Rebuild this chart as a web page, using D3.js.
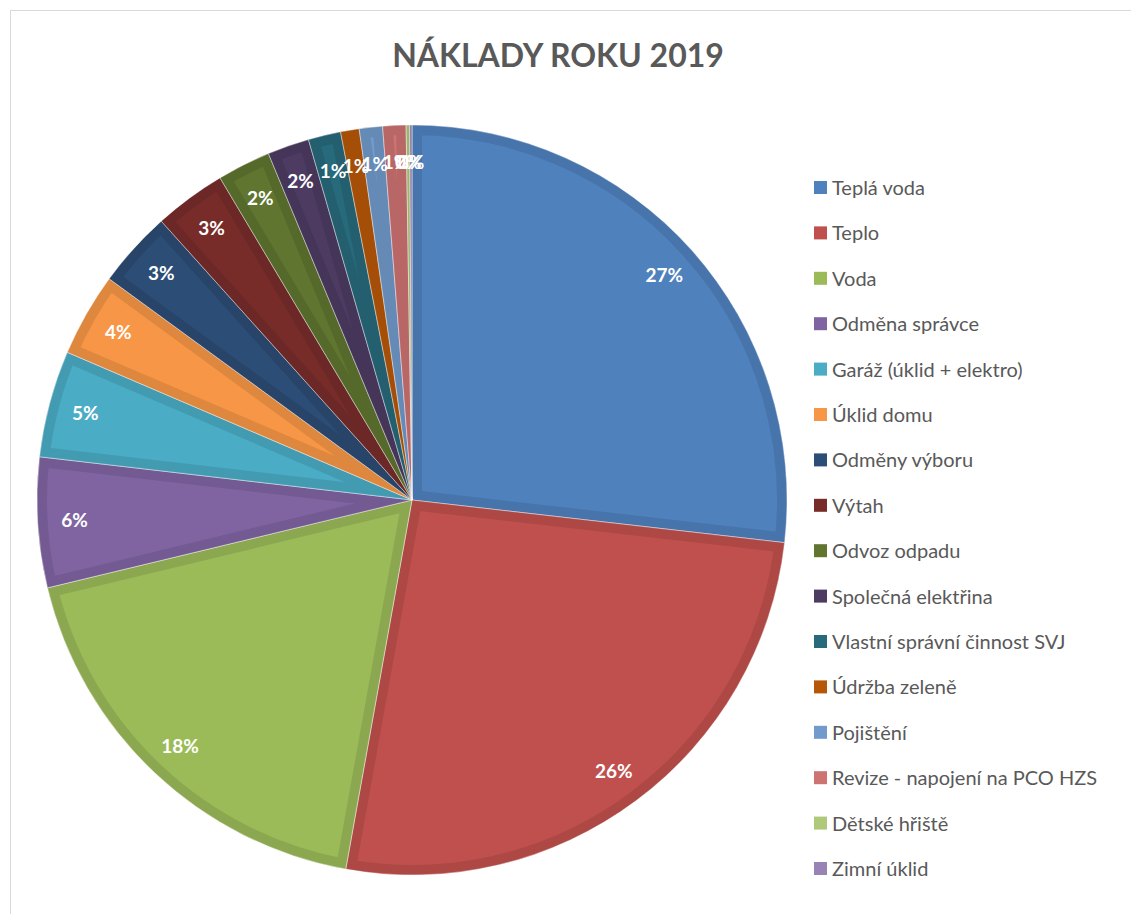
<!DOCTYPE html>
<html>
<head>
<meta charset="utf-8">
<script src="https://cdn.jsdelivr.net/npm/d3@7"></script>
<style>
  body { margin: 0; background: #fff; }
  svg { display: block; }
</style>
</head>
<body>
<div id="chart"></div>
<script>
// categories, values (share of costs) and slice colours
const categories = [
  "Teplá voda", "Teplo", "Voda", "Odměna správce", "Garáž (úklid + elektro)",
  "Úklid domu", "Odměny výboru", "Výtah", "Odvoz odpadu", "Společná elektřina",
  "Vlastní správní činnost SVJ", "Údržba zeleně", "Pojištění",
  "Revize - napojení na PCO HZS", "Dětské hřiště", "Zimní úklid"
]
const values = [26.8, 26.0, 18.4, 5.6, 4.6, 3.6, 3.3, 3.1, 2.3, 1.8, 1.4, 0.8, 1.0, 1.0, 0.15, 0.1]
const colors = [
  "#4F81BD", "#C0504D", "#9BBB59", "#8064A2", "#4BACC6", "#F79646",
  "#2C4D75", "#772C2A", "#5F7530", "#4D3B62", "#276A7C", "#B65708",
  "#729ACA", "#CD7371", "#AFC97A", "#9983B5"
]
const title = "NÁKLADY ROKU 2019"

const width = 1131
const height = 914
const cx = 412
const cy = 500
const radius = 375
const label_radius = 338
const font = "Lato, 'Open Sans', sans-serif"

const data = categories.map((c, i) => ({ name: c, value: values[i], color: colors[i] }))
const total = d3.sum(values)

const svg = d3.select("#chart")
  .append("svg")
  .attr("width", width)
  .attr("height", height)

// chart area border
svg.append("rect")
  .attr("x", 10.5)
  .attr("y", 10.5)
  .attr("width", width + 20)
  .attr("height", height + 20)
  .attr("fill", "none")
  .attr("stroke", "#D9D9D9")

// title
svg.append("text")
  .attr("x", 558)
  .attr("y", 67)
  .attr("text-anchor", "middle")
  .attr("font-family", font)
  .attr("font-weight", "bold")
  .attr("font-size", 32)
  .attr("fill", "#595959")
  .text(title)

// pie
const pie = d3.pie().sort(null).value(d => d.value)
const arc = d3.arc().innerRadius(0).outerRadius(radius)
const label_arc = d3.arc().innerRadius(label_radius).outerRadius(label_radius)
const arcs = pie(data)

const defs = svg.append("defs")
const g = svg.append("g").attr("transform", `translate(${cx},${cy})`)

arcs.forEach((a, i) => {
  defs.append("clipPath")
    .attr("id", "clip" + i)
    .append("path")
    .attr("d", arc(a))
})

const slices = g.selectAll("g.slice")
  .data(arcs)
  .join("g")
  .attr("class", "slice")

// fill with darker inner band along the edges
slices.append("path")
  .attr("d", arc)
  .attr("clip-path", (d, i) => `url(#clip${i})`)
  .attr("fill", d => d.data.color)
  .attr("stroke", d => d3.color(d.data.color).darker(0.3))
  .attr("stroke-width", 20)
  .attr("stroke-linejoin", "round")

// light separator between slices
slices.append("path")
  .attr("d", arc)
  .attr("fill", "none")
  .attr("stroke", "#ffffff")
  .attr("stroke-opacity", 0.45)
  .attr("stroke-width", 1)

// data labels
g.selectAll("text.pct")
  .data(arcs)
  .join("text")
  .attr("class", "pct")
  .attr("transform", d => `translate(${label_arc.centroid(d)})`)
  .attr("text-anchor", "middle")
  .attr("dy", "0.35em")
  .attr("font-family", font)
  .attr("font-weight", "bold")
  .attr("font-size", 19)
  .attr("fill", "#ffffff")
  .text(d => Math.round(d.data.value / total * 100) + "%")

// legend
const legend_y = d3.scalePoint()
  .domain(categories)
  .range([188, 869])

const legend = svg.append("g")
  .selectAll("g")
  .data(data)
  .join("g")
  .attr("transform", d => `translate(814,${legend_y(d.name)})`)

legend.append("rect")
  .attr("x", 0)
  .attr("y", -7)
  .attr("width", 13)
  .attr("height", 13)
  .attr("fill", d => d.color)

legend.append("text")
  .attr("x", 18)
  .attr("y", 0)
  .attr("dy", "0.35em")
  .attr("font-family", font)
  .attr("font-size", 20)
  .attr("fill", "#595959")
  .text(d => d.name)
</script>
</body>
</html>
